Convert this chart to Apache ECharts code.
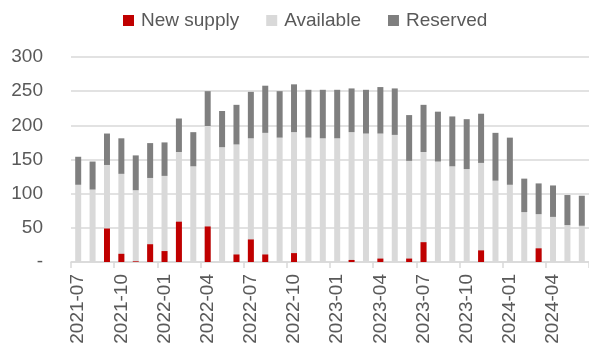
<!DOCTYPE html>
<html><head><meta charset="utf-8">
<script src="https://cdn.jsdelivr.net/npm/echarts@6/dist/echarts.min.js"></script>
<style>html,body{margin:0;padding:0;background:#fff}#c{width:589px;height:349px}</style>
</head><body><div id="c"></div>
<script>
const categories = ['2021-07','2021-08','2021-09','2021-10','2021-11','2021-12',
'2022-01','2022-02','2022-03','2022-04','2022-05','2022-06','2022-07','2022-08','2022-09','2022-10','2022-11','2022-12',
'2023-01','2023-02','2023-03','2023-04','2023-05','2023-06','2023-07','2023-08','2023-09','2023-10','2023-11','2023-12',
'2024-01','2024-02','2024-03','2024-04','2024-05','2024-06'];
const available = [113,106,142,129,105,123,126,161,140,199,168,172,181,189,182,190,182,181,
181,190,188,188,186,148,161,147,140,136,145,119,113,73,70,66,54,53];
const reserved = [41,41,46,52,51,51,49,49,50,51,53,58,68,69,68,70,70,71,
71,64,64,68,68,67,69,73,73,73,72,70,69,49,45,46,44,44];
const newSupply = [0,0,49,12,1,26,16,59,0,52,0,11,33,11,0,13,0,0,
0,3,0,5,0,5,29,0,0,0,17,0,0,0,20,0,0,0];
const yTicks = [0,50,100,150,200,250,300];

const FONT = 'Liberation Sans, Arial, sans-serif';
const TXT = '#595959';
const chart = echarts.init(document.getElementById('c'));
chart.setOption({
  animation: false,
  legend: {
    data: ['New supply','Available','Reserved'],
    left: 118, top: 6, icon: 'rect', itemWidth: 11, itemHeight: 11, itemGap: 27,
    textStyle: { fontFamily: FONT, fontSize: 19, color: TXT, padding: [0,0,0,2] }
  },
  grid: { left: 71, right: -2, top: 57, bottom: 87, containLabel: false },
  xAxis: {
    type: 'category', data: categories, boundaryGap: true,
    axisLine: { show: true, lineStyle: { color: '#d9d9d9', width: 1.5 } },
    axisTick: { show: true, interval: 2, length: 6, lineStyle: { color: '#d9d9d9', width: 1.5 } },
    axisLabel: { interval: 2, rotate: 90, margin: 12, fontFamily: FONT, fontSize: 19, color: TXT }
  },
  yAxis: {
    type: 'value', min: yTicks[0], max: yTicks[yTicks.length-1], interval: 50,
    axisLine: { show: false }, axisTick: { show: false },
    splitLine: { lineStyle: { color: '#d9d9d9', width: 1.5 } },
    axisLabel: { margin: 28, fontFamily: FONT, fontSize: 19, color: TXT,
      formatter: v => v === 0 ? '-' : String(v) }
  },
  series: [
    { name: 'Available', type: 'bar', stack: 'tot', data: available, barWidth: 6,
      itemStyle: { color: '#d9d9d9' } },
    { name: 'Reserved', type: 'bar', stack: 'tot', data: reserved, barWidth: 6,
      itemStyle: { color: '#7f7f7f' } },
    { name: 'New supply', type: 'bar', data: newSupply, barWidth: 6, barGap: '-100%', z: 3,
      itemStyle: { color: '#c00000' } }
  ]
});
</script></body></html>
